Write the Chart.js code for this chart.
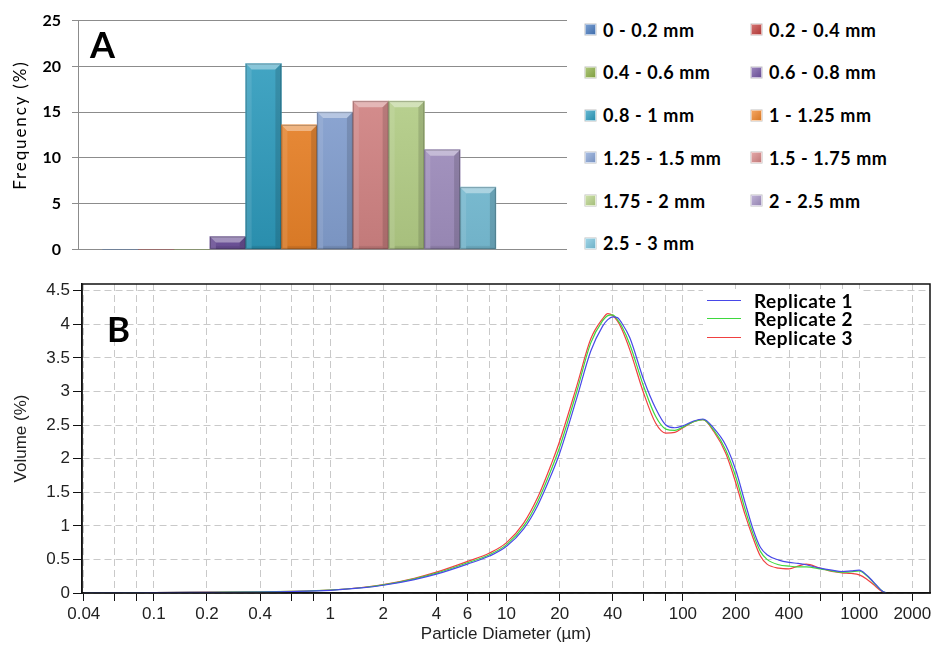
<!DOCTYPE html>
<html>
<head>
<meta charset="utf-8">
<script src="https://cdn.jsdelivr.net/npm/chart.js@4.4.0/dist/chart.umd.min.js"></script>
<style>
  html, body { margin: 0; padding: 0; background: #fff; }
  #wrap { position: relative; width: 937px; height: 646px; overflow: hidden; }
  #cA { position: absolute; left: 0; top: 0; }
  #cB { position: absolute; left: 0; top: 270px; }
  .panel { position: absolute; font-family: Lato, sans-serif; font-weight: 700; line-height: 1; color: #000; }
  #freqTitle { position: absolute; left: -81px; top: 115px; width: 200px; height: 20px; line-height: 20px;
               text-align: center; transform: rotate(-90deg); font: 400 17px Lato, sans-serif;
               letter-spacing: 1.9px; color: #000; white-space: nowrap; }
  .legA { position: absolute; height: 20px; display: flex; align-items: center; white-space: nowrap;
          font: 700 18px Lato, sans-serif; letter-spacing: 0.6px; color: #000; }
  .legA i { display: inline-block; width: 9px; height: 9px; margin-right: 7px; border: 1px solid rgba(255,255,255,0.55);
            box-shadow: 0 0 0 0.5px rgba(0,0,0,0.25); }
  #legB { position: absolute; left: 703px; top: 289px; width: 158px; height: 58px; background: #fff; }
  .legB { position: absolute; left: 0; height: 20px; display: flex; align-items: center; white-space: nowrap;
          font: 700 19px Lato, sans-serif; letter-spacing: 0.5px; color: #000; }
  .legB b { display: inline-block; width: 34px; height: 0; border-top: 1px solid; margin: 0 13px 0 4px; }
</style>
</head>
<body>
<div id="wrap">
  <canvas id="cA" width="580" height="270"></canvas>
  <canvas id="cB" width="937" height="376"></canvas>
  <div class="panel" id="labA" style="left:90px; top:26px; font-size:36px;">A</div>
  <div class="panel" id="labB" style="left:107px; top:311px; font-size:35px;">B</div>
  <div id="freqTitle">Frequency (%)</div>
  <div id="legendA"></div>
  <div id="legB"></div>
</div>
<script>
// ---- Panel A: size-class frequencies ----
const categories = ['0 - 0.2 mm', '0.2 - 0.4 mm', '0.4 - 0.6 mm', '0.6 - 0.8 mm', '0.8 - 1 mm',
                    '1 - 1.25 mm', '1.25 - 1.5 mm', '1.5 - 1.75 mm', '1.75 - 2 mm', '2 - 2.5 mm', '2.5 - 3 mm'];
const frequency = [0, 0, 0, 1.4, 20.3, 13.6, 15.0, 16.2, 16.2, 10.9, 6.8];
const freqTicks = [0, 5, 10, 15, 20, 25];
const barColors = ['#4a7cc0', '#c3413f', '#8fb24a', '#7558a4', '#2f9ec0', '#f0862a',
                   '#88a4d6', '#d88888', '#b9d48b', '#a795c6', '#7ec6de'];

// ---- Panel B: laser diffraction volume distributions ----
const diameters = [0.04, 0.06, 0.1, 0.2, 0.4, 0.6, 1, 1.5, 2, 3, 4, 6, 8, 10, 12.5, 15, 18, 20, 25, 30,
                   35, 37.5, 40, 42.5, 45, 50, 60, 70, 80, 90, 100, 115, 130, 150, 175, 200, 225, 250, 275, 300,
                   350, 400, 450, 500, 600, 700, 800, 900, 1000, 1100, 1200, 1350, 1420];
const replicate1 = [0, 0.003, 0.005, 0.01, 0.015, 0.022, 0.04, 0.075, 0.115, 0.2, 0.28, 0.43, 0.55, 0.695, 0.955, 1.30, 1.77, 2.08, 2.9, 3.6,
                    3.97, 4.07, 4.11, 4.1, 4.02, 3.8, 3.17, 2.75, 2.5, 2.46, 2.49, 2.56, 2.59, 2.45, 2.2, 1.82, 1.35, 0.95, 0.68, 0.57,
                    0.49, 0.455, 0.44, 0.42, 0.37, 0.34, 0.32, 0.33, 0.34, 0.27, 0.17, 0.03, 0];
const replicate2 = [0, 0.003, 0.006, 0.011, 0.016, 0.023, 0.042, 0.078, 0.12, 0.21, 0.295, 0.45, 0.57, 0.72, 0.995, 1.36, 1.85, 2.17, 3.0, 3.72,
                    4.05, 4.13, 4.14, 4.07, 3.97, 3.70, 3.07, 2.63, 2.44, 2.42, 2.47, 2.55, 2.58, 2.42, 2.13, 1.72, 1.25, 0.88, 0.62, 0.50,
                    0.42, 0.40, 0.39, 0.39, 0.36, 0.33, 0.31, 0.315, 0.33, 0.26, 0.16, 0.03, 0];
const replicate3 = [0, 0.004, 0.007, 0.012, 0.018, 0.025, 0.045, 0.082, 0.125, 0.22, 0.31, 0.47, 0.595, 0.75, 1.04, 1.42, 1.93, 2.26, 3.08, 3.78,
                    4.08, 4.16, 4.13, 4.05, 3.93, 3.62, 2.97, 2.53, 2.38, 2.39, 2.46, 2.55, 2.58, 2.40, 2.08, 1.63, 1.17, 0.82, 0.55, 0.43,
                    0.37, 0.36, 0.40, 0.43, 0.37, 0.32, 0.30, 0.29, 0.27, 0.21, 0.13, 0.02, 0];
const replicateNames = ['Replicate 1', 'Replicate 2', 'Replicate 3'];
const replicateColors = ['#4848e8', '#3ed83e', '#f04040'];
const diameterGrid = [0.04, 0.06, 0.08, 0.1, 0.2, 0.4, 0.6, 0.8, 1, 2, 4, 6, 8, 10, 20, 40, 60, 80,
                      100, 200, 400, 600, 800, 1000, 2000];
const diameterLabels = [0.04, 0.1, 0.2, 0.4, 1, 2, 4, 6, 10, 20, 40, 100, 200, 400, 1000, 2000];
const volumeTicks = [0, 0.5, 1, 1.5, 2, 2.5, 3, 3.5, 4, 4.5];

// colour helpers
function hexRgb(h) { const n = parseInt(h.slice(1), 16); return [(n >> 16) & 255, (n >> 8) & 255, n & 255]; }
function shade(h, t) {
  const c = hexRgb(h);
  const m = c.map(v => Math.round(t >= 0 ? v + (255 - v) * t : v * (1 + t)));
  return 'rgb(' + m.join(',') + ')';
}

function barFill(c) {
  const col = barColors[c.dataIndex];
  const area = c.chart.chartArea;
  if (!area) return col;
  const g = c.chart.ctx.createLinearGradient(0, area.top, 0, area.bottom);
  g.addColorStop(0, shade(col, 0.12));
  g.addColorStop(1, shade(col, -0.1));
  return g;
}

// bevelled faces on each bar, from the bar element geometry
const bevel = {
  id: 'bevel',
  afterDatasetsDraw(chart) {
    const ctx = chart.ctx;
    chart.getDatasetMeta(0).data.forEach(bar => {
      const { x, y, base, width } = bar.getProps(['x', 'y', 'base', 'width'], true);
      const h = base - y;
      if (h < 1) return;
      const L = x - width / 2, R = x + width / 2;
      const d = Math.min(6, h / 2), e = Math.min(6, width / 4);
      ctx.save();
      ctx.fillStyle = 'rgba(255,255,255,0.38)';
      ctx.beginPath(); ctx.moveTo(L, y); ctx.lineTo(R, y); ctx.lineTo(R - e, y + d); ctx.lineTo(L + e, y + d); ctx.closePath(); ctx.fill();
      ctx.fillStyle = 'rgba(255,255,255,0.10)';
      ctx.beginPath(); ctx.moveTo(L, y); ctx.lineTo(L + e, y + d); ctx.lineTo(L + e, base); ctx.lineTo(L, base); ctx.closePath(); ctx.fill();
      ctx.fillStyle = 'rgba(0,0,0,0.13)';
      ctx.beginPath(); ctx.moveTo(R, y); ctx.lineTo(R - e, y + d); ctx.lineTo(R - e, base); ctx.lineTo(R, base); ctx.closePath(); ctx.fill();
      ctx.fillStyle = 'rgba(0,0,0,0.08)';
      ctx.fillRect(L + e, base - 3, width - 2 * e, 3);
      ctx.strokeStyle = 'rgba(0,0,0,0.22)';
      ctx.lineWidth = 1;
      ctx.strokeRect(L + 0.5, y + 0.5, width - 1, h - 1);
      ctx.restore();
    });
  }
};

new Chart(document.getElementById('cA'), {
  type: 'bar',
  data: {
    datasets: [{
      data: categories.map((c, i) => ({ x: i, y: frequency[i] })),
      backgroundColor: barFill,
      borderWidth: 0,
      categoryPercentage: 1,
      barPercentage: 1
    }]
  },
  options: {
    responsive: false,
    animation: false,
    events: [],
    layout: { padding: { top: 18, bottom: 15, left: 0, right: 13 } },
    plugins: { legend: { display: false }, tooltip: { enabled: false } },
    scales: {
      x: { type: 'linear', display: false, offset: false, bounds: 'data', grace: 0, min: -1.19, max: 12.49,
           grid: { offset: false } },
      y: {
        min: 0, max: 25,
        afterBuildTicks(s) { s.ticks = freqTicks.map(v => ({ value: v })); },
        afterFit(s) { s.width = 78; },
        ticks: { padding: 11, color: '#000', font: { family: 'Lato', weight: 'bold', size: 16 } },
        grid: { color: '#8c8c8c', tickLength: 6, tickColor: '#8c8c8c' },
        border: { color: '#8c8c8c' }
      }
    }
  },
  plugins: [bevel]
});

// legend for panel A, two columns
const legA = document.getElementById('legendA');
categories.forEach((c, i) => {
  const col = i % 2, row = Math.floor(i / 2);
  const el = document.createElement('div');
  el.className = 'legA';
  el.style.left = (col ? 751 : 585) + 'px';
  el.style.top = (19.7 + row * 42.7) + 'px';
  const sw = document.createElement('i');
  sw.style.background = 'linear-gradient(135deg,' + shade(barColors[i], 0.25) + ',' + shade(barColors[i], -0.1) + ')';
  el.appendChild(sw);
  el.appendChild(document.createTextNode(c));
  legA.appendChild(el);
});

// black frame around the plot area of panel B
const frame = {
  id: 'frame',
  afterDraw(chart) {
    const { left, top, right, bottom } = chart.chartArea;
    const ctx = chart.ctx;
    ctx.save();
    ctx.strokeStyle = '#111';
    ctx.lineWidth = 1.5;
    ctx.strokeRect(left, top, right - left, bottom - top);
    ctx.restore();
  }
};

const seriesB = [replicate1, replicate2, replicate3];
new Chart(document.getElementById('cB'), {
  type: 'line',
  data: {
    datasets: seriesB.map((vals, k) => ({
      label: replicateNames[k],
      data: diameters.map((d, i) => ({ x: d, y: vals[i] })),
      borderColor: replicateColors[k],
      borderWidth: 1.2,
      pointRadius: 0,
      fill: false,
      cubicInterpolationMode: 'monotone'
    }))
  },
  options: {
    responsive: false,
    animation: false,
    events: [],
    layout: { padding: { top: 14, bottom: 0, left: 0, right: 7 } },
    plugins: { legend: { display: false }, tooltip: { enabled: false } },
    scales: {
      x: {
        type: 'logarithmic', position: 'bottom', min: 0.0391, max: 2520,
        afterBuildTicks(s) { s.ticks = diameterGrid.map(v => ({ value: v })); },
        afterFit(s) { s.height = 53; },
        ticks: {
          autoSkip: false, maxRotation: 0, minRotation: 0, padding: 3, color: '#222',
          font: { family: 'Liberation Sans', size: 17 },
          callback: v => (diameterLabels.includes(v) ? String(v) : '')
        },
        grid: { color: '#c9c9c9', tickColor: '#111', tickLength: 8 },
        border: { color: '#111', width: 1.5, dash: [7, 4] },
        title: { display: true, text: 'Particle Diameter (µm)', color: '#222',
                 font: { family: 'Liberation Sans', size: 17 }, padding: { top: 0, bottom: 1 } }
      },
      y: {
        min: 0, max: 4.6,
        afterBuildTicks(s) { s.ticks = volumeTicks.map(v => ({ value: v })); },
        afterFit(s) { s.width = 82; },
        ticks: { padding: 3, color: '#222', font: { family: 'Liberation Sans', size: 17 },
                 callback: v => String(v) },
        grid: { color: '#c9c9c9', tickColor: '#111', tickLength: 9 },
        border: { color: '#111', width: 1.5, dash: [7, 4] },
        title: { display: true, text: 'Volume (%)', color: '#222',
                 font: { family: 'Liberation Sans', size: 17 }, padding: { top: 11, bottom: 0 } }
      }
    }
  },
  plugins: [frame]
});

// legend for panel B
const legB = document.getElementById('legB');
replicateNames.forEach((n, k) => {
  const el = document.createElement('div');
  el.className = 'legB';
  el.style.top = (1 + k * 18.8) + 'px';
  const ln = document.createElement('b');
  ln.style.borderTopColor = replicateColors[k];
  el.appendChild(ln);
  el.appendChild(document.createTextNode(n));
  legB.appendChild(el);
});
</script>
</body>
</html>
